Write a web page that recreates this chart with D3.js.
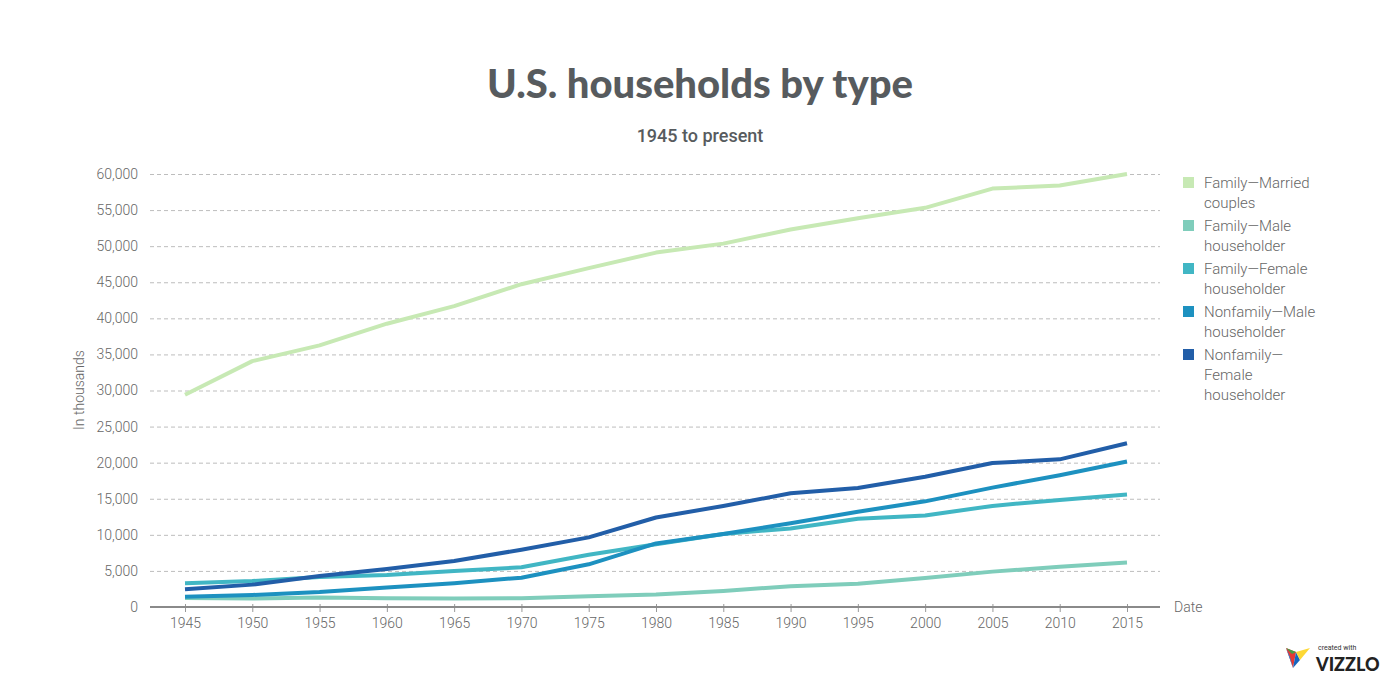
<!DOCTYPE html>
<html lang="en">
    <head>
        <meta charset="utf-8">
        <title>U.S. households by type</title>
        <script src="https://d3js.org/d3.v7.min.js"></script>
        <style>
            body {
                margin: 0;
                background-color: #FFFFFF;
            }
            svg {
                display: block;
                font-family: Roboto, sans-serif;
            }
            .tick text {
                fill: #666;
                font-family: Roboto, sans-serif;
                font-size: 14px;
                font-weight: 300;
            }
            .grid line {
                stroke: #BDBDBD;
                stroke-dasharray: 4, 3;
            }
            .legend text {
                fill: #666;
                font-size: 15px;
                font-weight: 300;
            }
        </style>
    </head>
    <body>
        <svg id="chart"></svg>

        <script>
            //data (thousands of households)
            const years = [1945, 1950, 1955, 1960, 1965, 1970, 1975, 1980, 1985, 1990, 1995, 2000, 2005, 2010, 2015];
            const marriedCouples   = [29400, 34075, 36251, 39254, 41689, 44728, 46951, 49112, 50350, 52317, 53858, 55311, 57975, 58410, 60010];
            const familyMale       = [1250, 1169, 1328, 1228, 1179, 1228, 1499, 1733, 2228, 2884, 3226, 4028, 4901, 5580, 6162];
            const familyFemale     = [3300, 3594, 4153, 4422, 4992, 5500, 7242, 8705, 10129, 10890, 12220, 12687, 14009, 14843, 15574];
            const nonfamilyMale    = [1430, 1668, 2080, 2716, 3299, 4063, 5912, 8807, 10114, 11606, 13190, 14641, 16543, 18263, 20166];
            const nonfamilyFemale  = [2450, 3100, 4300, 5260, 6370, 7940, 9650, 12400, 14000, 15750, 16500, 18050, 19950, 20460, 22700];
            const yTicks = [0, 5000, 10000, 15000, 20000, 25000, 30000, 35000, 40000, 45000, 50000, 55000, 60000];

            const seriesNames = [
                ["Family\u2014Married", "couples"],
                ["Family\u2014Male", "householder"],
                ["Family\u2014Female", "householder"],
                ["Nonfamily\u2014Male", "householder"],
                ["Nonfamily\u2014", "Female", "householder"]
            ];
            const seriesValues = [marriedCouples, familyMale, familyFemale, nonfamilyMale, nonfamilyFemale];
            const colors = ["#C7E9B4", "#7FCDBB", "#41B6C4", "#1D91C0", "#225EA8"];

            //dimensions
            const width = 1400, height = 700;
            const plotLeft = 150, plotRight = 1160, plotTop = 174, plotBottom = 607;

            const svg = d3.select("#chart")
                .attr("width", width)
                .attr("height", height);

            //scales
            const xScale = d3.scaleLinear()
                .domain([1945, 2015])
                .range([185, 1127]);

            const yScale = d3.scaleLinear()
                .domain([0, 60000])
                .range([plotBottom, plotTop]);

            //title
            svg.append("text")
                .attr("x", 700)
                .attr("y", 98)
                .attr("text-anchor", "middle")
                .style("font-family", "Lato, sans-serif")
                .style("font-weight", 900)
                .style("font-size", "40px")
                .style("fill", "#575B5E")
                .text("U.S. households by type");

            svg.append("text")
                .attr("x", 700)
                .attr("y", 142)
                .attr("text-anchor", "middle")
                .style("font-family", "Roboto, sans-serif")
                .style("font-weight", 500)
                .style("font-size", "18px")
                .style("fill", "#575B5E")
                .text("1945 to present");

            //grid lines
            svg.append("g")
                .attr("class", "grid")
                .selectAll("line")
                .data(yTicks.filter(d => d > 0))
                .join("line")
                .attr("x1", plotLeft)
                .attr("x2", plotRight)
                .attr("y1", d => yScale(d) + 0.5)
                .attr("y2", d => yScale(d) + 0.5);

            //y axis
            const yAxis = d3.axisLeft(yScale)
                .tickValues(yTicks)
                .tickSize(0)
                .tickPadding(12)
                .tickFormat(d3.format(","));

            svg.append("g")
                .attr("transform", `translate(${plotLeft}, 0)`)
                .call(yAxis)
                .call(g => g.select(".domain").remove());

            svg.append("text")
                .attr("transform", `translate(84, 390) rotate(-90)`)
                .attr("text-anchor", "middle")
                .style("font-size", "14px")
                .style("font-weight", 300)
                .style("fill", "#666")
                .text("In thousands");

            //x axis
            const xAxis = d3.axisBottom(xScale)
                .tickValues(years)
                .tickSize(5)
                .tickPadding(6)
                .tickFormat(d3.format("d"));

            const xg = svg.append("g")
                .attr("transform", `translate(0, ${plotBottom})`)
                .call(xAxis)
                .call(g => g.select(".domain").remove());

            xg.selectAll(".tick line")
                .attr("y1", -3)
                .attr("stroke", "#999");

            xg.append("line")
                .attr("x1", plotLeft)
                .attr("x2", plotRight)
                .attr("stroke", "#8A8A8A")
                .attr("stroke-width", 2);

            svg.append("text")
                .attr("x", 1174)
                .attr("y", 612)
                .style("font-size", "14px")
                .style("font-weight", 300)
                .style("fill", "#666")
                .text("Date");

            //lines
            const line = d3.line()
                .x((d, i) => xScale(years[i]))
                .y(d => yScale(d));

            svg.append("g")
                .selectAll("path")
                .data(seriesValues)
                .join("path")
                .attr("d", d => line(d))
                .attr("fill", "none")
                .attr("stroke", (d, i) => colors[i])
                .attr("stroke-width", 4)
                .attr("stroke-linejoin", "round");

            //legend
            const legend = svg.append("g").attr("class", "legend");
            let ly = 183;
            seriesNames.forEach((name, i) => {
                legend.append("rect")
                    .attr("x", 1183)
                    .attr("y", ly - 6)
                    .attr("width", 11)
                    .attr("height", 11)
                    .attr("fill", colors[i]);
                const t = legend.append("text")
                    .attr("x", 1204)
                    .attr("y", ly + 5);
                name.forEach((part, j) => {
                    t.append("tspan")
                        .attr("x", 1204)
                        .attr("dy", j === 0 ? 0 : 20)
                        .text(part);
                });
                ly += name.length * 20 + 3;
            });

            //logo
            const logo = svg.append("g").attr("transform", "translate(1286, 648)");
            logo.append("path").attr("d", "M0,0 L10,4 L7,20 Z").attr("fill", "#E53935");
            logo.append("path").attr("d", "M0,0 L7,20 L4,9 Z").attr("fill", "#1E88E5");
            logo.append("path").attr("d", "M7,20 L10,4 L14,12 Z").attr("fill", "#1565C0");
            logo.append("path").attr("d", "M10,4 L24,0 L14,12 Z").attr("fill", "#FDD835");
            logo.append("path").attr("d", "M0,0 L10,4 L6,6 Z").attr("fill", "#43A047");
            svg.append("text")
                .attr("x", 1318)
                .attr("y", 650)
                .style("font-size", "7px")
                .style("fill", "#333")
                .text("created with");
            svg.append("text")
                .attr("x", 1316)
                .attr("y", 671)
                .style("font-family", "Lato, sans-serif")
                .style("font-weight", 900)
                .style("font-size", "18px")
                .style("fill", "#222")
                .text("VIZZLO");
        </script>
    </body>
</html>
